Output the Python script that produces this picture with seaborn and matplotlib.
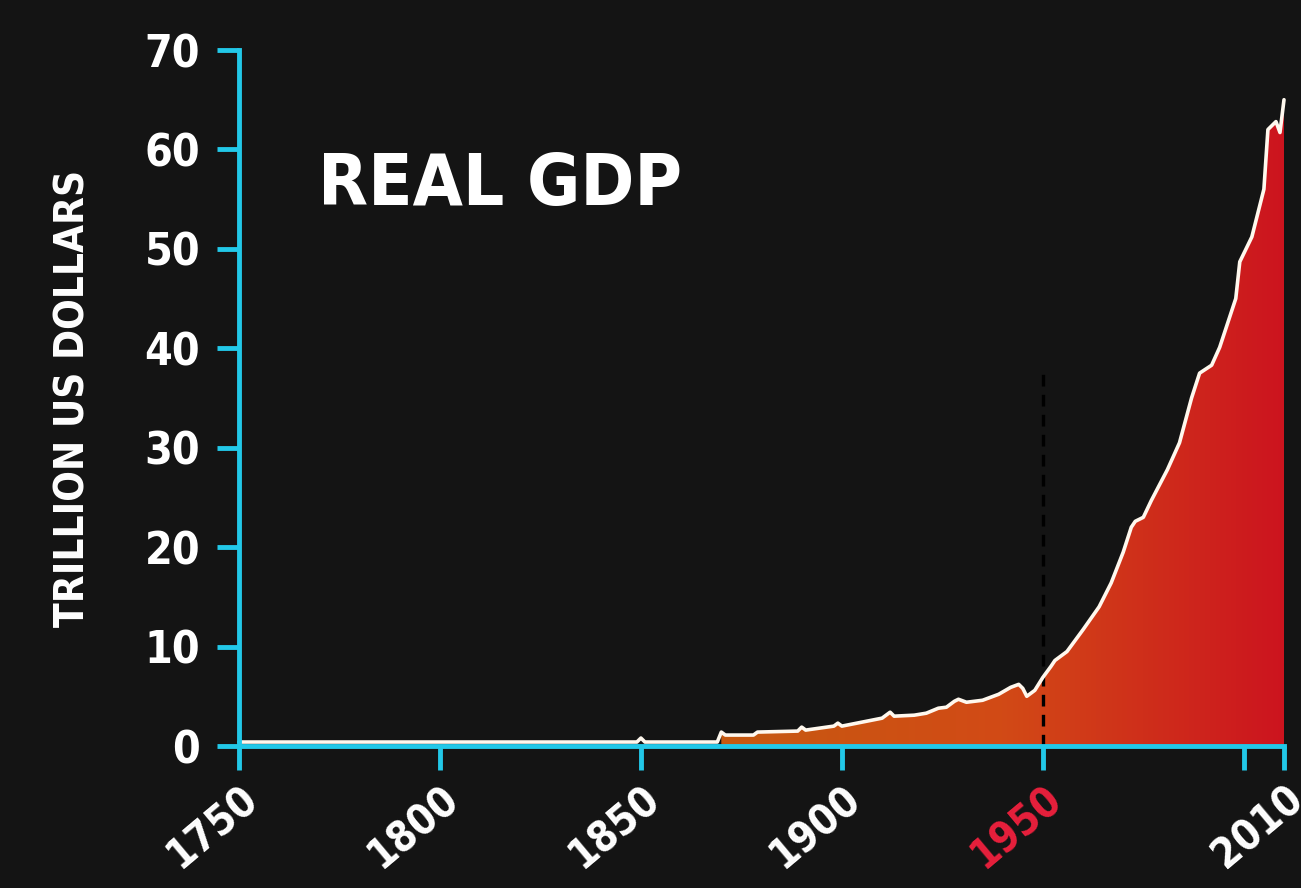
import numpy as np
import pandas as pd
import seaborn as sns
import matplotlib.pyplot as plt
import matplotlib.transforms as mtransforms
from matplotlib import font_manager
from matplotlib.colors import LinearSegmentedColormap
from matplotlib.patches import PathPatch

# values (trillion US dollars)
years = [1750, 1800, 1849, 1850, 1851, 1869,
         1870, 1871, 1878, 1879, 1889, 1890, 1891, 1898, 1899, 1900, 1905,
         1910, 1912, 1913, 1918, 1921, 1924, 1926, 1928, 1929, 1931, 1935,
         1939, 1942, 1944, 1945, 1946, 1948, 1950, 1952, 1953, 1956, 1960,
         1964, 1967, 1970, 1972, 1973, 1975, 1977, 1981, 1984, 1987, 1989,
         1992, 1994, 1998, 1999, 2002, 2005, 2006, 2008, 2009, 2010]
gdp = [0.4, 0.4, 0.4, 0.8, 0.4, 0.4,
       1.4, 1.1, 1.1, 1.4, 1.5, 1.9, 1.6, 2.0, 2.3, 2.0, 2.4,
       2.8, 3.4, 3.0, 3.1, 3.3, 3.8, 3.9, 4.5, 4.7, 4.4, 4.6,
       5.2, 5.9, 6.2, 5.8, 5.0, 5.6, 6.9, 8.0, 8.6, 9.5, 11.7,
       14.0, 16.4, 19.5, 22.0, 22.6, 23.0, 24.7, 27.8, 30.5, 35.0, 37.5,
       38.3, 40.1, 45.0, 48.7, 51.2, 56.0, 62.0, 62.8, 61.7, 65.0]
fill_start = 1870
marker_year = 1950
xticks = [1750, 1800, 1850, 1900, 1950, 2000, 2010]
xtick_labels = ['1750', '1800', '1850', '1900', '1950', '', '2010']
yticks = [0, 10, 20, 30, 40, 50, 60, 70]

df = pd.DataFrame({'year': years, 'gdp': gdp})

cyan = '#22c8e8'
bg = '#141414'
sns.set_style('dark', {'axes.facecolor': bg, 'figure.facecolor': bg,
                       'axes.edgecolor': cyan, 'text.color': 'white',
                       'xtick.color': 'white', 'ytick.color': 'white'})

# look for a condensed face, fall back to plain DejaVu
family, stretch, narrow = 'DejaVu Sans', 'normal', False
for fam, st in [('Liberation Sans Narrow', 'normal'), ('DejaVu Sans', 'condensed'),
                ('Open Sans', 'condensed'), ('Noto Sans', 'condensed')]:
    try:
        p = font_manager.findfont(font_manager.FontProperties(family=fam, stretch=st, weight='bold'),
                                  fallback_to_default=False)
        if 'Narrow' in p or 'Condensed' in p:
            family, stretch, narrow = fam, st, True
            break
    except Exception:
        pass
plt.rcParams['font.family'] = [family, 'DejaVu Sans']
plt.rcParams['font.stretch'] = stretch
plt.rcParams['font.weight'] = 'bold'
k = 1.0 if narrow else 0.9

fig = plt.figure(figsize=(13.01, 8.88), dpi=100)
ax = fig.add_axes([239 / 1301, 1 - 746 / 888, 1045 / 1301, 696 / 888])

# gradient area
sub = df[df.year >= fill_start]
poly = ax.fill_between(sub.year, 0, sub.gdp, color='none', lw=0)
patch = PathPatch(poly.get_paths()[0], transform=ax.transData,
                  facecolor='none', edgecolor='none')
ax.add_patch(patch)
cmap = LinearSegmentedColormap.from_list('gdp', ['#c65a10', '#d24a16', '#cc141f'])
grad = np.linspace(0, 1, 256).reshape(1, -1)
im = ax.imshow(grad, cmap=cmap, aspect='auto', extent=[fill_start, 2010, 0, 70],
               origin='lower', zorder=1)
im.set_clip_path(patch)

sns.lineplot(data=df, x='year', y='gdp', ax=ax, color='#fff8ee', lw=2.6,
             zorder=3, clip_on=False)

ax.vlines(marker_year, 0, 37.8, colors='black', lw=2.4,
          linestyles=(0, (3.5, 2.5)), zorder=2)

ax.set_xlim(1750, 2010)
ax.set_ylim(0, 70)
ax.grid(False)
for s in ['top', 'right']:
    ax.spines[s].set_visible(False)
for s in ['left', 'bottom']:
    ax.spines[s].set_linewidth(3.5)
    ax.spines[s].set_color(cyan)
    ax.spines[s].set_zorder(4)
ax.set_xlabel('')
ax.set_ylabel('')

ax.set_yticks(yticks)
ax.set_yticklabels([str(v) for v in yticks], fontsize=32 * k, fontweight='bold')
ax.tick_params(axis='y', left=True, length=16, width=3.5, color=cyan, pad=12)
ax.set_xticks(xticks)
ax.set_xticklabels(xtick_labels, fontsize=30 * k, fontweight='bold',
                   rotation=40, ha='right', va='center', rotation_mode='anchor')
ax.tick_params(axis='x', bottom=True, length=17, width=3.5, color=cyan, pad=17)
offset = mtransforms.ScaledTranslation(0.14, 0, fig.dpi_scale_trans)
for lab in ax.get_xticklabels():
    lab.set_transform(lab.get_transform() + offset)
    if lab.get_text() == str(marker_year):
        lab.set_color('#e8203c')

ax.text(0.0756, 0.777, 'REAL GDP', transform=ax.transAxes, fontsize=52 * k,
        fontweight='bold', color='white', va='baseline', ha='left')
fig.text(74 / 1301, 1 - 398 / 888, 'TRILLION US DOLLARS', rotation=90,
         fontsize=29 * k, fontweight='bold', color='white', ha='center', va='center')

fig.savefig('out.png', dpi=100, facecolor=bg)
